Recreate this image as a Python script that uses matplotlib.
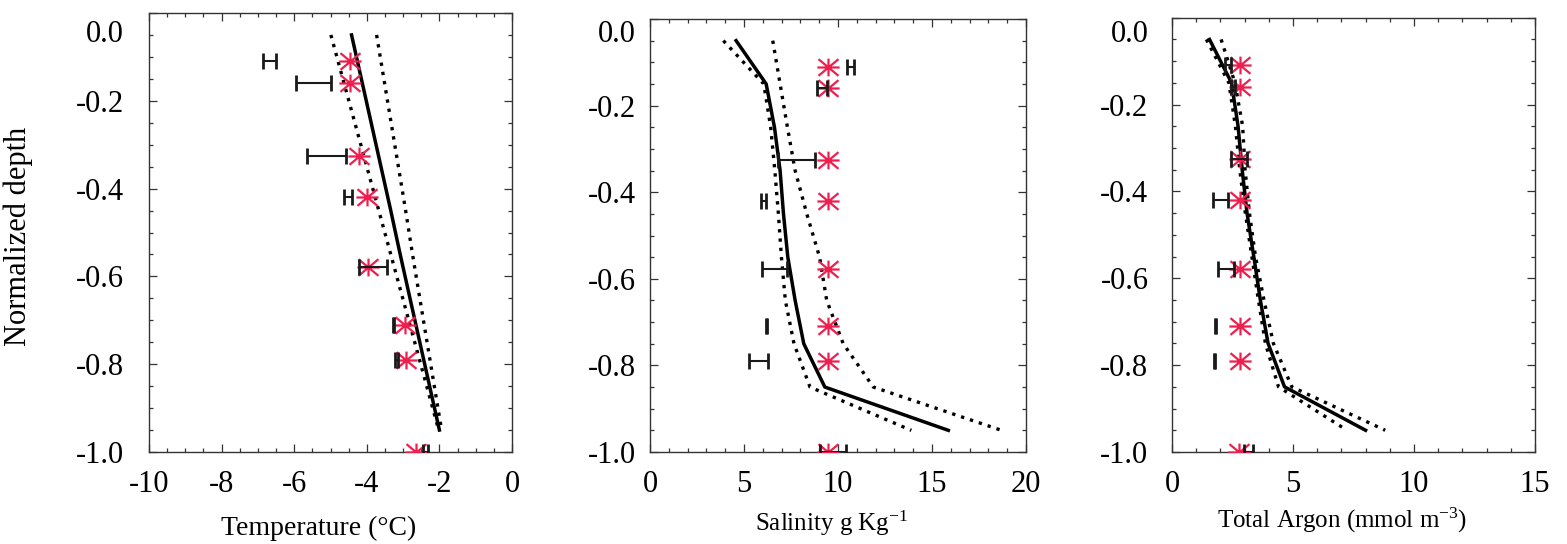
import matplotlib
matplotlib.use("Agg")
import matplotlib.pyplot as plt
from matplotlib.path import Path
from matplotlib.ticker import MultipleLocator, FormatStrFormatter

plt.rcParams["font.family"] = ["Liberation Serif", "DejaVu Serif"]
plt.rcParams["mathtext.fontset"] = "custom"
plt.rcParams["mathtext.rm"] = "Liberation Serif"
plt.rcParams["mathtext.default"] = "rm"
plt.rcParams["axes.unicode_minus"] = False

# ---- model layers (normalized depth) ----
model_depth = [-0.05, -0.15, -0.25, -0.35, -0.45, -0.55, -0.65, -0.75, -0.85, -0.95]

temp_mean = [-4.42, -4.15, -3.88, -3.61, -3.34, -3.08, -2.81, -2.54, -2.27, -2.00]
temp_low = [-4.99, -4.66, -4.33, -4.00, -3.67, -3.34, -3.01, -2.68, -2.35, -2.02]
temp_high = [-3.73, -3.53, -3.33, -3.13, -2.93, -2.74, -2.54, -2.34, -2.14, -1.94]

sal_mean = [4.58, 6.18, 6.62, 6.92, 7.10, 7.33, 7.72, 8.18, 9.30, 15.87]
sal_low = [3.90, 6.05, 6.42, 6.64, 6.83, 6.99, 7.20, 7.66, 8.51, 13.90]
sal_high = [6.53, 6.92, 7.31, 7.72, 8.34, 9.02, 9.40, 10.28, 11.88, 18.70]

ar_mean = [1.55, 2.46, 2.73, 2.90, 3.10, 3.38, 3.65, 3.97, 4.65, 8.00]
ar_low = [1.42, 2.35, 2.62, 2.80, 3.03, 3.30, 3.57, 3.86, 4.40, 7.23]
ar_high = [2.03, 2.60, 2.92, 3.02, 3.20, 3.45, 3.80, 4.19, 4.95, 8.81]

# ---- observations (normalized depth) ----
obs_depth = [-0.11, -0.16, -0.325, -0.42, -0.578, -0.71, -0.79, -1.0]

temp_star = [-4.46, -4.46, -4.21, -4.00, -3.98, -2.95, -2.93, -2.65]
temp_obs = [-6.68, -5.47, -5.12, -4.52, -3.83, -3.27, -3.18, -2.38]
temp_err = [0.17, 0.47, 0.54, 0.10, 0.38, 0.02, 0.05, 0.06]

sal_star = [9.45, 9.45, 9.45, 9.45, 9.45, 9.45, 9.45, 9.45]
sal_obs = [10.67, 9.16, 7.79, 6.03, 6.63, 6.20, 5.79, 9.75]
sal_err = [0.20, 0.28, 0.96, 0.12, 0.65, 0.03, 0.50, 0.70]

ar_star = [2.80, 2.80, 2.80, 2.80, 2.80, 2.80, 2.80, 2.77]
ar_obs = [2.32, 2.52, 2.77, 2.00, 2.22, 1.79, 1.75, 3.16]
ar_err = [0.12, 0.10, 0.33, 0.32, 0.33, 0.02, 0.02, 0.20]

# ---- style ----
STAR_RED = "#EE1F4F"
AX_COLOR = "#333333"
star_path = Path(
    [(-1, 0), (1, 0), (0, -0.8), (0, 0.8),
     (-0.9, -0.75), (0.9, 0.75), (-0.9, 0.75), (0.9, -0.75)],
    [Path.MOVETO, Path.LINETO] * 4,
)

W, H = 1567, 544
fig = plt.figure(figsize=(W / 100, H / 100), dpi=100)

panels = [
    dict(rect=(149, 13, 363), xlim=(-10, 0), major=2, minor=0.5,
         mean=temp_mean, low=temp_low, high=temp_high,
         star=temp_star, obs=temp_obs, err=temp_err,
         xlabel="Temperature (°C)", xl=(0.468, -0.189), xfs=20, ypad=18, zero_off=12.7),
    dict(rect=(650, 19, 376), xlim=(0, 20), major=5, minor=1,
         mean=sal_mean, low=sal_low, high=sal_high,
         star=sal_star, obs=sal_obs, err=sal_err,
         xlabel="Salinity g Kg$^{-1}$", xl=(0.483, -0.182), xfs=18, ypad=10, zero_off=8.9),
    dict(rect=(1172, 17.7, 363), xlim=(0, 15), major=5, minor=1,
         mean=ar_mean, low=ar_low, high=ar_high,
         star=ar_star, obs=ar_obs, err=ar_err,
         xlabel="Total Argon (mmol m$^{-3}$)", xl=(0.468, -0.175), xfs=18, ypad=17, zero_off=9.7),
]

TICK_FS = 22
bottom_px = 452
for i, p in enumerate(panels):
    left, top, width = p["rect"]
    ax = fig.add_axes([left / W, 1 - bottom_px / H, width / W, (bottom_px - top) / H])
    ax.set_xlim(*p["xlim"])
    ax.set_ylim(-1.0, 0.0)

    # model profile with its bounds
    ax.plot(p["low"], model_depth, color="black", lw=2.4, ls=(0, (1, 1.8)),
            dash_capstyle="butt", zorder=3)
    ax.plot(p["high"], model_depth, color="black", lw=2.4, ls=(0, (1, 1.8)),
            dash_capstyle="butt", zorder=3)
    ax.plot(p["mean"], model_depth, color="black", lw=2.5, zorder=4)

    # observations
    ax.plot(p["star"], obs_depth, ls="none", marker=star_path, ms=16, mew=1.6,
            mec=STAR_RED, mfc="none", zorder=5)
    ax.errorbar(p["obs"], obs_depth, xerr=p["err"], fmt="none", ecolor="#1a1a1a",
                elinewidth=1.5, capsize=6, capthick=2.0, zorder=6)

    # axes styling
    for s in ax.spines.values():
        s.set_color(AX_COLOR)
        s.set_linewidth(1.0)
    ax.xaxis.set_major_locator(MultipleLocator(p["major"]))
    ax.xaxis.set_minor_locator(MultipleLocator(p["minor"]))
    ax.yaxis.set_major_locator(MultipleLocator(0.2))
    ax.yaxis.set_minor_locator(MultipleLocator(0.05))
    ax.xaxis.set_major_formatter(FormatStrFormatter("%d"))
    ax.yaxis.set_major_formatter(FormatStrFormatter("%.1f"))
    ax.tick_params(which="both", direction="in", top=True, right=True,
                   color=AX_COLOR, width=0.9)
    ax.tick_params(which="major", length=6)
    ax.tick_params(which="minor", length=3)
    ax.tick_params(axis="x", which="major", labelsize=TICK_FS, pad=13)
    ax.tick_params(axis="y", which="major", labelsize=TICK_FS, pad=p["ypad"])

    # the 0.0 label sits a little below the top edge
    yt = ax.get_yticks()
    ax.set_yticks(yt)
    ax.set_yticklabels(["" if abs(v) < 1e-9 else f"{v:.1f}" for v in yt])
    ax.set_ylim(-1.0, 0.0)
    ax.annotate("0.0", xy=(0, 0.0), xycoords=("axes fraction", "data"),
                xytext=(-p["ypad"], -p["zero_off"]), textcoords="offset points",
                ha="right", va="center_baseline", fontsize=TICK_FS,
                annotation_clip=False)

    ax.set_xlabel(p["xlabel"], fontsize=p["xfs"])
    ax.xaxis.label.set_va("baseline")
    ax.xaxis.set_label_coords(*p["xl"])

    if i == 0:
        ax.set_ylabel("Normalized depth", fontsize=22)
        ax.yaxis.set_label_coords(-0.32, 0.491)

fig.savefig("out.png", dpi=100)
